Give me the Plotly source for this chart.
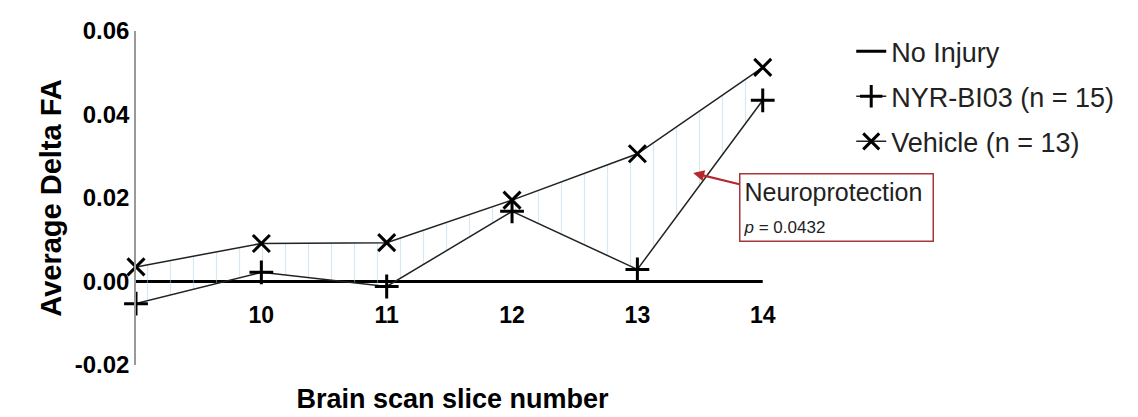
import plotly.graph_objects as go

# Brain scan slices and mean change in fractional anisotropy per group
slices = [9, 10, 11, 12, 13, 14]
no_injury = [0, 0, 0, 0, 0, 0]
nyr_bi03 = [-0.0053, 0.0022, -0.0012, 0.0168, 0.0029, 0.0434]
vehicle = [0.0035, 0.0091, 0.0093, 0.0195, 0.0306, 0.0513]

x_ticks = [10, 11, 12, 13, 14]
y_ticks = [-0.02, 0.0, 0.02, 0.04, 0.06]
y_tick_text = ["-0.02", "0.00", "0.02", "0.04", "0.06"]

FONT = "Liberation Sans, Arial, sans-serif"

fig = go.Figure()

# Reference line for uninjured animals
fig.add_trace(go.Scatter(
    x=slices, y=no_injury, mode="lines", name="No Injury",
    line=dict(color="black", width=3), legendgroup="a", cliponaxis=False,
))

# NYR-BI03 treated group
fig.add_trace(go.Scatter(
    x=slices, y=nyr_bi03, mode="lines+markers", name="NYR-BI03 (n = 15)",
    line=dict(color="#222222", width=1.5),
    marker=dict(symbol="cross-thin", size=17, color="black",
                line=dict(color="black", width=3)),
    legendgroup="b", cliponaxis=False,
))

# Hatched band between the two treatment curves
fig.add_trace(go.Scatter(
    x=slices, y=vehicle, mode="lines", fill="tonexty",
    line=dict(width=0, color="rgba(0,0,0,0)"),
    fillcolor="rgba(0,0,0,0)",
    fillpattern=dict(shape="|", fgcolor="#a9d3e6", bgcolor="rgba(0,0,0,0)",
                     size=23, solidity=0.05, fillmode="overlay"),
    showlegend=False, hoverinfo="skip",
))

# Vehicle control group
fig.add_trace(go.Scatter(
    x=slices, y=vehicle, mode="lines+markers", name="Vehicle (n = 13)",
    line=dict(color="#222222", width=1.5),
    marker=dict(symbol="x-thin", size=17, color="black",
                line=dict(color="black", width=3)),
    legendgroup="c", cliponaxis=False,
))

fig.add_annotation(
    x=13.445, y=0.026, xref="x", yref="y",
    text="Neuroprotection<br><span style='font-size:17px'><i>p</i> = 0.0432</span>",
    showarrow=True, arrowhead=2, arrowsize=1, arrowwidth=2.2, arrowcolor="#b5282c",
    ax=143, ay=35, align="left", width=186, borderpad=3,
    bordercolor="#a8353a", borderwidth=1.5, bgcolor="white",
    font=dict(family=FONT, size=25, color="#222222"),
)

fig.update_layout(
    width=1138, height=417,
    margin=dict(l=136, r=369, t=31, b=52),
    paper_bgcolor="white", plot_bgcolor="white",
    font=dict(family=FONT, color="black"),
    showlegend=True,
    legend=dict(
        xref="container", yref="container", x=0.748, y=0.935,
        xanchor="left", yanchor="top", tracegroupgap=7,
        font=dict(family=FONT, size=27, color="#222222"),
        bgcolor="rgba(0,0,0,0)", itemwidth=30,
    ),
    xaxis=dict(
        range=[9, 14.05], tickvals=x_ticks, ticktext=[str(v) for v in x_ticks],
        anchor="free", position=0.25, showline=False, showgrid=False, zeroline=False,
        ticks="outside", ticklen=13, tickcolor="rgba(0,0,0,0)",
        tickfont=dict(family=FONT, size=23, color="black", weight="bold"),
        title=dict(text="Brain scan slice number", standoff=62,
                   font=dict(family=FONT, size=27, color="black", weight="bold")),
        automargin=False,
    ),
    yaxis=dict(
        range=[-0.02, 0.06], tickvals=y_ticks, ticktext=y_tick_text,
        showline=True, linecolor="#9a9a9a", linewidth=1.5,
        showgrid=False, zeroline=False, ticks="", ticklabelstandoff=0,
        tickfont=dict(family=FONT, size=24, color="black", weight="bold"),
        title=dict(text="Average Delta FA", standoff=5,
                   font=dict(family=FONT, size=29, color="black", weight="bold")),
        automargin=False,
    ),
)

fig.write_html("out.html")
